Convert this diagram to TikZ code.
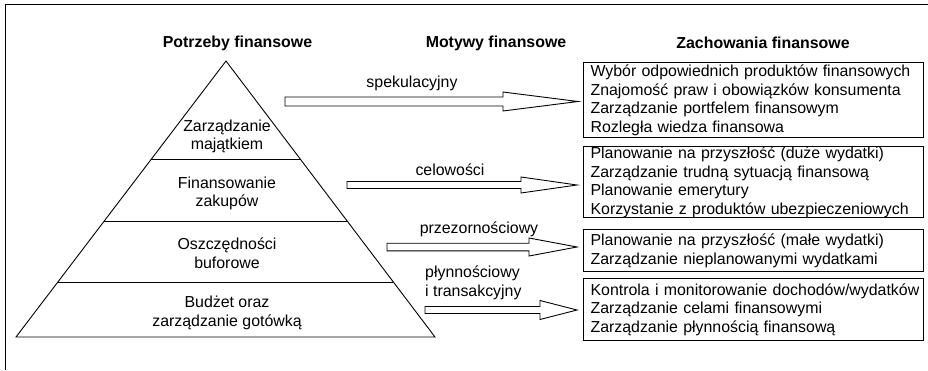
\documentclass[tikz,border=0pt]{standalone}
\usepackage{fontspec}
\setmainfont{Liberation Sans}
\usetikzlibrary{calc}
\tikzset{
  base/.style={font=\fontsize{15.9}{18.5}\selectfont},
  header/.style={base,font=\fontsize{15.9}{18.5}\selectfont\bfseries,inner sep=0pt},
  level/.style={base,align=center,inner sep=0pt},
  lbl/.style={base,inner sep=0pt},
  behbox/.style={base,draw,line width=1.1pt,anchor=north west,minimum width=340pt,
    text width=340pt,align=left,inner xsep=0pt,inner ysep=0pt,
    execute at begin node={\leftskip=7pt\hyphenpenalty=10000}},
  pyr/.style={line width=0.9pt,line join=miter},
  blk/.style={draw,line width=0.9pt,fill=white,line join=miter},
  frame/.style={line width=1pt}
}
\newcommand\blockarrow[5]{%
  \draw[blk] let \p1=(#1), \p2=(#2) in
    (\x1,\y2+#4) -- (\x2-#3,\y2+#4) -- (\x2-#3,\y2+#5) -- (\x2,\y2) --
    (\x2-#3,\y2-#5) -- (\x2-#3,\y2-#4) -- (\x1,\y2-#4) -- cycle;}
\begin{document}
\begin{tikzpicture}[x=1pt,y=-1pt]
\useasboundingbox (0,0) rectangle (928,370);
% outer frame
\coordinate (fbl) at (5.5,370);
\coordinate (ftl) at (5.5,4);
\coordinate (ftr) at (928,4);
\draw[frame] (fbl) -- (ftl) -- (ftr);

% headers
\node[header] (h1) at (237.5,43) {Potrzeby finansowe};
\node[header] (h2) at (496,43) {Motywy finansowe};
\node[header] (h3) at (763,43) {Zachowania finansowe};

% pyramid
\coordinate (apex) at (226,61);
\coordinate (bl) at (16,337);
\coordinate (br) at (435,337);
\draw[pyr] (apex) -- (bl) -- (br) -- cycle;
\draw[pyr] ($(apex)!0.355!(bl)$) -- ($(apex)!0.355!(br)$);
\draw[pyr] ($(apex)!0.5797!(bl)$) -- ($(apex)!0.5797!(br)$);
\draw[pyr] ($(apex)!0.8007!(bl)$) -- ($(apex)!0.8007!(br)$);

\node[level] (l1) at (227,136.5) {Zarządzanie\\majątkiem};
\node[level] (l2) at (227,193.5) {Finansowanie\\zakupów};
\node[level] (l3) at (227,253) {Oszczędności\\buforowe};
\node[level] (l4) at (227,313) {Budżet oraz\\zarządzanie gotówką};

% behaviour boxes
\node[behbox,minimum height=75pt] (b1) at (583,62)
 {Wybór odpowiednich produktów finansowych\\Znajomość praw i obowiązków konsumenta\\Zarządzanie portfelem finansowym\\Rozległa wiedza finansowa};
\node[behbox,minimum height=71pt] (b2) at (583,146)
 {Planowanie na przyszłość (duże wydatki)\\Zarządzanie trudną sytuacją finansową\\Planowanie emerytury\\Korzystanie z produktów ubezpieczeniowych};
\node[behbox,minimum height=42pt] (b3) at (583,229)
 {Planowanie na przyszłość (małe wydatki)\\Zarządzanie nieplanowanymi wydatkami};
\node[behbox,minimum height=62pt] (b4) at (583,278)
 {Kontrola i monitorowanie dochodów/wydatków\\Zarządzanie celami finansowymi\\Zarządzanie płynnością finansową};

% arrows
\coordinate (s1) at (285,101.5);
\coordinate (t1) at (578,101.5);
\coordinate (s2) at (347,185);
\coordinate (t2) at (577,185);
\coordinate (s3) at (387,247);
\coordinate (t3) at (577,247);
\coordinate (s4) at (425,310);
\coordinate (t4) at (577,310);
\blockarrow{s1}{t1}{75}{4.5}{9.5}
\blockarrow{s2}{t2}{56}{3.5}{8}
\blockarrow{s3}{t3}{48}{3.8}{9}
\blockarrow{s4}{t4}{37}{3.5}{9.5}

% motive labels
\node[lbl] (m1) at (412,83) {spekulacyjny};
\node[lbl] (m2) at (450,170) {celowości};
\node[lbl] (m3) at (479,229) {przezornościowy};
\node[lbl,align=left,anchor=north west] (m4) at (425,266) {płynnościowy\\i transakcyjny};
\end{tikzpicture}
\end{document}
